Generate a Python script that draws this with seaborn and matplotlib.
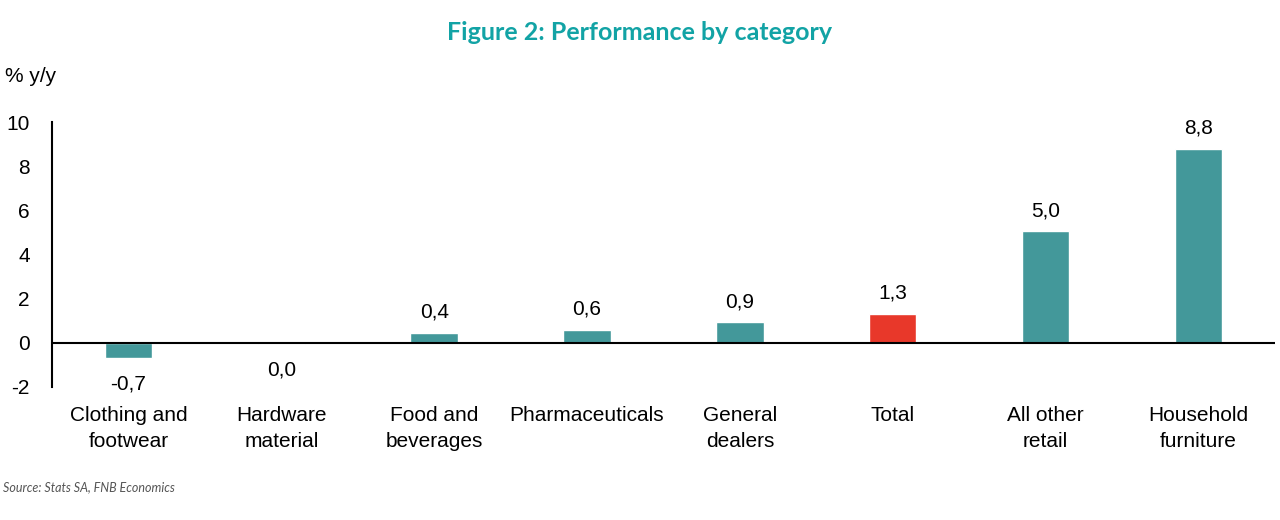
import matplotlib
matplotlib.use("Agg")
import matplotlib.pyplot as plt
import seaborn as sns
import pandas as pd

categories = ["Clothing and\nfootwear", "Hardware\nmaterial", "Food and\nbeverages",
              "Pharmaceuticals", "General\ndealers", "Total", "All other\nretail",
              "Household\nfurniture"]
values = [-0.7, -0.04, 0.45, 0.6, 0.93, 1.3, 5.05, 8.8]
value_labels = ["-0,7", "0,0", "0,4", "0,6", "0,9", "1,3", "5,0", "8,8"]
y_ticks = [-2, 0, 2, 4, 6, 8, 10]

teal = "#43989A"
red = "#E8382A"
bar_colors = [red if c == "Total" else teal for c in categories]

sns.set_theme(style="white")
plt.rcParams["font.family"] = ["Liberation Sans", "DejaVu Sans"]

df = pd.DataFrame({"cat": categories, "val": values})

fig = plt.figure(figsize=(12.8, 5.2), dpi=100)
ax = fig.add_axes([0.0406, 0.256, 0.9554, 0.509])

sns.barplot(data=df, x="cat", y="val", hue="cat", palette=bar_colors,
            legend=False, width=0.31, ax=ax, saturation=1)

ax.set_xlim(-0.5, 7.5)
ax.set_ylim(-2, 10)
ax.set_yticks(y_ticks)
ax.set_yticklabels([str(t) for t in y_ticks])
ax.axhline(0, color="black", lw=1.5, zorder=3)

for s in ["top", "right", "bottom"]:
    ax.spines[s].set_visible(False)
ax.spines["left"].set_color("black")
ax.spines["left"].set_linewidth(1.5)

ax.tick_params(axis="y", length=0, labelsize=15, pad=16, colors="black")
ax.tick_params(axis="x", length=0, labelsize=15, pad=14, colors="black")
for t in ax.get_xticklabels():
    t.set_linespacing(1.45)
ax.set_xlabel("")
ax.set_ylabel("")

for i, (v, lab) in enumerate(zip(values, value_labels)):
    if v >= 0:
        ax.annotate(lab, (i, v), xytext=(0, 8), textcoords="offset points",
                    ha="center", va="bottom", fontsize=15, color="black")
    else:
        ax.annotate(lab, (i, v), xytext=(0, -12), textcoords="offset points",
                    ha="center", va="top", fontsize=15, color="black")

fig.text(0.5, 0.937, "Figure 2: Performance by category", ha="center", va="center",
         fontsize=18, fontweight="bold", color="#12A3A5", family=["Lato", "DejaVu Sans"])
fig.text(0.004, 0.852, "% y/y", ha="left", va="center", fontsize=15, color="black")
fig.text(0.002, 0.063, "Source: Stats SA, FNB Economics", ha="left", va="center",
         fontsize=9, style="italic", color="#555555", family=["Lato", "DejaVu Sans"])

fig.savefig("out.png", dpi=100, facecolor="white")
